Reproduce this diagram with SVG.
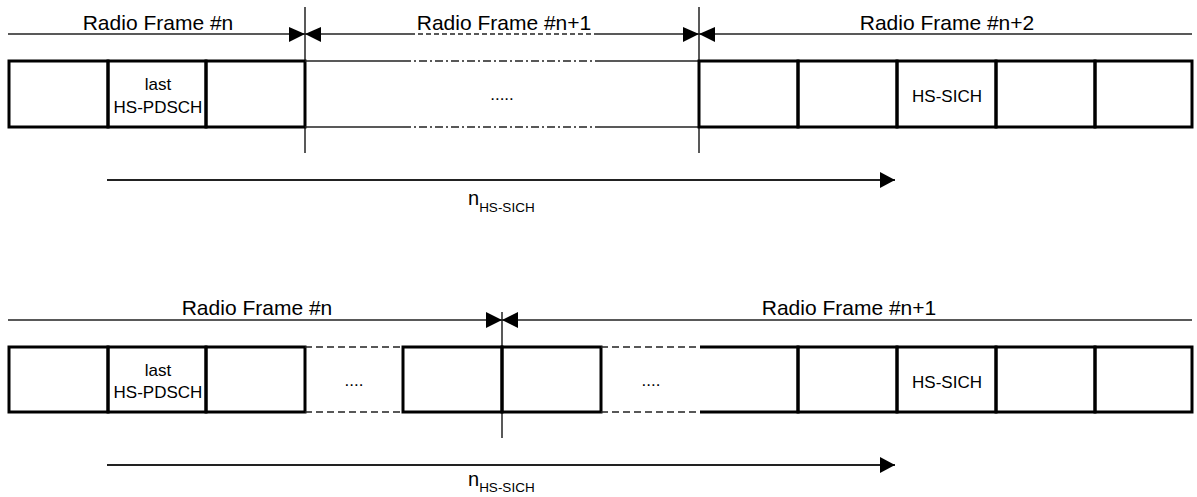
<svg xmlns="http://www.w3.org/2000/svg" width="1197" height="497" viewBox="0 0 1197 497">
<style>
text{font-family:"Liberation Sans",Arial,sans-serif;fill:#000}
.lbl{font-size:21px;text-anchor:middle}
.cell{font-size:17px;text-anchor:middle}
.thick{stroke:#000;stroke-width:3;fill:none}
.thin{stroke:#222;stroke-width:1.5;fill:none}
.dash{stroke:#222;stroke-width:1.5;fill:none;stroke-dasharray:7 4}
.dashdot{stroke:#222;stroke-width:1.5;fill:none;stroke-dasharray:8 3 2 3}
.arr{stroke:#222;stroke-width:2;fill:none}
.head{fill:#000}
</style>
<defs>
<marker id="ah" markerWidth="16" markerHeight="16" refX="15" refY="8" orient="auto" markerUnits="userSpaceOnUse">
<path d="M0,0 L15,8 L0,16 Z" class="head"/>
</marker>
</defs>

<!-- ===== TOP DIAGRAM ===== -->
<g id="connectors">
<!-- top frame line -->
<line class="thin" x1="8" y1="34" x2="410" y2="34"/>
<line class="dash" x1="410" y1="34" x2="598" y2="34" style="stroke-dasharray:5 3"/>
<line class="thin" x1="598" y1="34" x2="1192" y2="34"/>
<!-- separators -->
<line class="thin" x1="305" y1="7" x2="305" y2="153"/>
<line class="thin" x1="699" y1="7" x2="699" y2="153"/>
<!-- arrowheads at 305 -->
<path class="head" d="M289,27 L305,34 L289,42 Z"/>
<path class="head" d="M321,27 L305,34 L321,42 Z"/>
<!-- arrowheads at 699 -->
<path class="head" d="M683,27 L699,34 L683,42 Z"/>
<path class="head" d="M715,27 L699,34 L715,42 Z"/>
<!-- long arrow -->
<line class="arr" x1="107" y1="180" x2="895" y2="180" marker-end="url(#ah)"/>

<!-- bottom frame line -->
<line class="thin" x1="8" y1="320" x2="1192" y2="320"/>
<line class="thin" x1="502" y1="312" x2="502" y2="438"/>
<path class="head" d="M486,312 L502,320 L486,328 Z"/>
<path class="head" d="M518,312 L502,320 L518,328 Z"/>
<!-- long arrow bottom -->
<line class="arr" x1="107" y1="465" x2="895" y2="465" marker-end="url(#ah)"/>
</g>

<g id="labels">
<text class="lbl" x="158" y="30">Radio Frame #n</text>
<text class="lbl" x="504" y="30">Radio Frame #n+1</text>
<text class="lbl" x="947" y="30">Radio Frame #n+2</text>
<text x="468" y="205" style="font-size:20px">n<tspan dy="7" style="font-size:13.5px">HS-SICH</tspan></text>
<text class="lbl" x="257" y="315">Radio Frame #n</text>
<text class="lbl" x="849" y="315">Radio Frame #n+1</text>
<text x="468" y="486" style="font-size:20px">n<tspan dy="6" style="font-size:13.5px">HS-SICH</tspan></text>
</g>

<!-- top slots, frame n -->
<g id="t-slot1"><rect class="thick" x="9" y="61" width="99" height="66"/></g>
<g id="t-slot2"><rect class="thick" x="108" y="61" width="98" height="66"/>
<text class="cell" x="158" y="90">last</text><text class="cell" x="158" y="113">HS-PDSCH</text></g>
<g id="t-slot3"><rect class="thick" x="206" y="61" width="99" height="66"/></g>
<!-- frame n+1 gap -->
<g id="t-gap">
<line class="thin" x1="305" y1="61" x2="403" y2="61"/>
<line class="dashdot" x1="403" y1="61" x2="601" y2="61"/>
<line class="thin" x1="601" y1="61" x2="699" y2="61"/>
<line class="thin" x1="305" y1="127" x2="403" y2="127"/>
<line class="dashdot" x1="403" y1="127" x2="601" y2="127"/>
<line class="thin" x1="601" y1="127" x2="699" y2="127"/>
<text class="cell" x="502" y="100">.....</text>
</g>
<!-- frame n+2 -->
<g id="t-slot4"><rect class="thick" x="699" y="61" width="99" height="66"/></g>
<g id="t-slot5"><rect class="thick" x="798" y="61" width="99" height="66"/></g>
<g id="t-slot6"><rect class="thick" x="897" y="61" width="99" height="66"/>
<text class="cell" x="947" y="102">HS-SICH</text></g>
<g id="t-slot7"><rect class="thick" x="996" y="61" width="99" height="66"/></g>
<g id="t-slot8"><rect class="thick" x="1095" y="61" width="97" height="66"/></g>

<!-- ===== BOTTOM DIAGRAM ===== -->
<g id="b-slot1"><rect class="thick" x="9" y="347" width="99" height="65"/></g>
<g id="b-slot2"><rect class="thick" x="108" y="347" width="98" height="65"/>
<text class="cell" x="158" y="376">last</text><text class="cell" x="158" y="398">HS-PDSCH</text></g>
<g id="b-slot3"><rect class="thick" x="206" y="347" width="99" height="65"/></g>
<g id="b-gap1">
<line class="dash" x1="305" y1="347" x2="403" y2="347"/>
<line class="dash" x1="305" y1="412" x2="403" y2="412"/>
<text class="cell" x="354" y="386">....</text>
</g>
<g id="b-slot4"><rect class="thick" x="403" y="347" width="99" height="65"/></g>
<g id="b-slot5"><rect class="thick" x="502" y="347" width="99" height="65"/></g>
<g id="b-gap2">
<line class="dash" x1="601" y1="347" x2="700" y2="347"/>
<line class="dash" x1="601" y1="412" x2="700" y2="412"/>
<text class="cell" x="651" y="386">....</text>
</g>
<g id="b-slot6"><path class="thick" d="M700,347 H798 V412 H700"/></g>
<g id="b-slot7"><rect class="thick" x="798" y="347" width="99" height="65"/></g>
<g id="b-slot8"><rect class="thick" x="897" y="347" width="99" height="65"/>
<text class="cell" x="947" y="388">HS-SICH</text></g>
<g id="b-slot9"><rect class="thick" x="996" y="347" width="99" height="65"/></g>
<g id="b-slot10"><rect class="thick" x="1095" y="347" width="97" height="65"/></g>
</svg>
